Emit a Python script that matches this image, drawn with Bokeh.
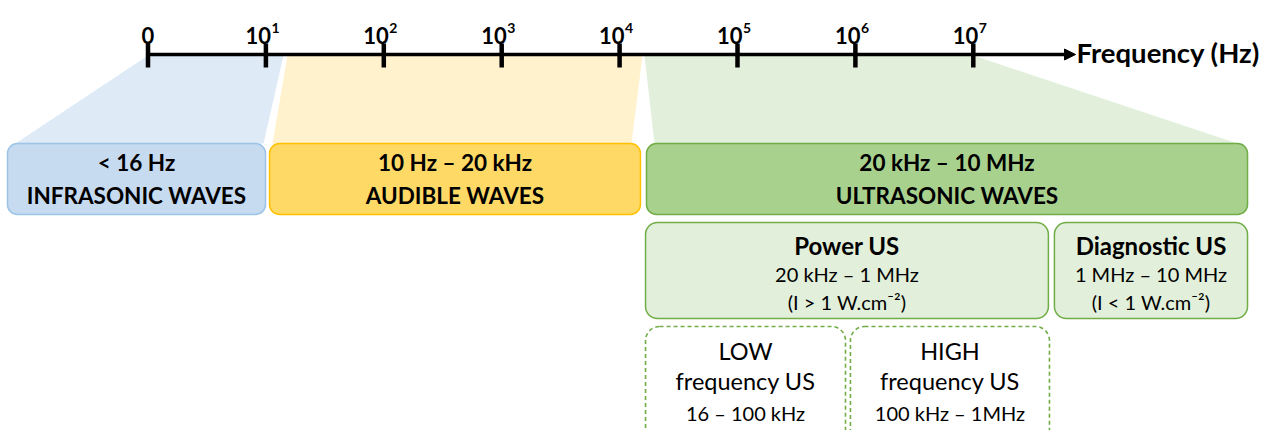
from bokeh.plotting import figure
from bokeh.models import Range1d, Arrow, NormalHead
from bokeh.core.properties import value
from bokeh.embed import file_html
from bokeh.resources import INLINE

# ---------------- data ----------------
tick_exponents = [0, 1, 2, 3, 4, 5, 6, 7]
tick_base = ["0", "10", "10", "10", "10", "10", "10", "10"]
tick_sup = ["", "1", "2", "3", "4", "5", "6", "7"]
axis_title = "Frequency (Hz)"

band_ranges = ["< 16 Hz", "10 Hz \u2013 20 kHz", "20 kHz \u2013 10 MHz"]
band_names = ["INFRASONIC WAVES", "AUDIBLE WAVES", "ULTRASONIC WAVES"]

us_types = ["Power US", "Diagnostic US"]
us_ranges = ["20 kHz \u2013 1 MHz", "1 MHz \u2013 10 MHz"]
us_intensity = ["(I > 1 W.cm\u207b\u00b2)", "(I < 1 W.cm\u207b\u00b2)"]

power_levels = ["LOW", "HIGH"]
power_sub = ["frequency US", "frequency US"]
power_ranges = ["16 \u2013 100 kHz", "100 kHz \u2013 1MHz"]

# ---------------- layout (x in decades of Hz, y in px from top) ----------------
PX_PER_DEC = 117.9
W, H = 1271, 430
X0 = -147.5 / PX_PER_DEC
X1 = X0 + W / PX_PER_DEC

band_left = [-1.192, 1.031, 4.228]
band_right = [0.997, 4.177, 9.326]
band_fill = ["#C6DAF0", "#FFD966", "#A9D18E"]
band_line = ["#9DC3E6", "#FFC000", "#70AD47"]
trap_fill = ["#DEEAF6", "#FFF2CC", "#E2EFDA"]
trap_xs = [[0.0, 1.149, 0.980, -1.124],
           [1.183, 4.194, 4.101, 1.056],
           [4.211, 7.0, 9.241, 4.296]]
AX_Y = 54
trap_ys = [[AX_Y + 1, AX_Y + 1, 143, 143]] * 3

us_left = [4.22, 7.688]
us_right = [7.637, 9.326]
pw_left = [4.22, 5.958]
pw_right = [5.916, 7.646]

FONT = value("Lato")

p = figure(width=W, height=H, x_range=Range1d(X0, X1), y_range=Range1d(H, 0),
           output_backend="svg", toolbar_location=None, min_border=0,
           x_axis_location=None, y_axis_location=None)
p.grid.visible = False
p.outline_line_color = None
p.background_fill_color = "white"

# trapezoids
p.patches(xs=trap_xs, ys=trap_ys, fill_color=trap_fill, line_color=None)

# band boxes
p.quad(left=band_left, right=band_right, top=143, bottom=214,
       fill_color=band_fill, line_color=band_line, line_width=1.5, border_radius=10)
bx = [(l + r) / 2 for l, r in zip(band_left, band_right)]
p.text(x=bx, y=[162] * 3, text=band_ranges, text_font=FONT, text_font_size="22.5px",
       text_font_style="bold", text_align="center", text_baseline="middle", text_color="black")
p.text(x=bx, y=[195] * 3, text=band_names, text_font=FONT, text_font_size="22.5px",
       text_font_style="bold", text_align="center", text_baseline="middle", text_color="black")

# US type boxes
p.quad(left=us_left, right=us_right, top=222, bottom=318,
       fill_color="#E2EFDA", line_color="#70AD47", line_width=1.5, border_radius=12)
ux = [(l + r) / 2 for l, r in zip(us_left, us_right)]
p.text(x=ux, y=[245] * 2, text=us_types, text_font=FONT, text_font_size="24px",
       text_font_style="bold", text_align="center", text_baseline="middle", text_color="black")
p.text(x=ux, y=[273] * 2, text=us_ranges, text_font=FONT, text_font_size="20px",
       text_align="center", text_baseline="middle", text_color="black")
p.text(x=ux, y=[301] * 2, text=us_intensity, text_font=FONT, text_font_size="20px",
       text_align="center", text_baseline="middle", text_color="black")

# power sub boxes
p.quad(left=pw_left, right=pw_right, top=326, bottom=445,
       fill_color="white", line_color="#70AD47", line_width=1.6, line_dash="4 3",
       border_radius=14)
wx = [(l + r) / 2 for l, r in zip(pw_left, pw_right)]
p.text(x=wx, y=[350] * 2, text=power_levels, text_font=FONT, text_font_size="23.5px",
       text_align="center", text_baseline="middle", text_color="black")
p.text(x=wx, y=[380] * 2, text=power_sub, text_font=FONT, text_font_size="23.5px",
       text_align="center", text_baseline="middle", text_color="black")
p.text(x=wx, y=[412] * 2, text=power_ranges, text_font=FONT, text_font_size="20px",
       text_align="center", text_baseline="middle", text_color="black")

# axis line with arrow
arrow_tip = 7.867
p.add_layout(Arrow(end=NormalHead(size=11, fill_color="black", line_color="black", line_width=1),
                   x_start=0, y_start=AX_Y, x_end=arrow_tip, y_end=AX_Y,
                   line_width=3.5, line_color="black"))
p.segment(x0=tick_exponents, y0=[43] * 8, x1=tick_exponents, y1=[67] * 8,
          line_width=4.5, line_color="black", line_cap="butt")

# tick labels
p.text(x=tick_exponents[:1], y=[35], text=tick_base[:1], text_font=FONT, text_font_size="22px",
       text_font_style="bold", text_align="center", text_baseline="alphabetic", text_color="black")
p.text(x=tick_exponents[1:], y=[35] * 7, text=tick_base[1:], text_font=FONT, text_font_size="22px",
       text_font_style="bold", text_align="right", text_baseline="alphabetic", text_color="black",
       x_offset=5)
p.text(x=tick_exponents[1:], y=[27] * 7, text=tick_sup[1:], text_font=FONT, text_font_size="14px",
       text_font_style="bold", text_align="left", text_baseline="alphabetic", text_color="black",
       x_offset=5.5)

p.text(x=[arrow_tip], y=[52], text=[axis_title], text_font=FONT, text_font_size="27.5px",
       text_font_style="bold", text_align="left", text_baseline="middle", text_color="black",
       x_offset=1)

open("out.html", "w").write(file_html(p, INLINE))
